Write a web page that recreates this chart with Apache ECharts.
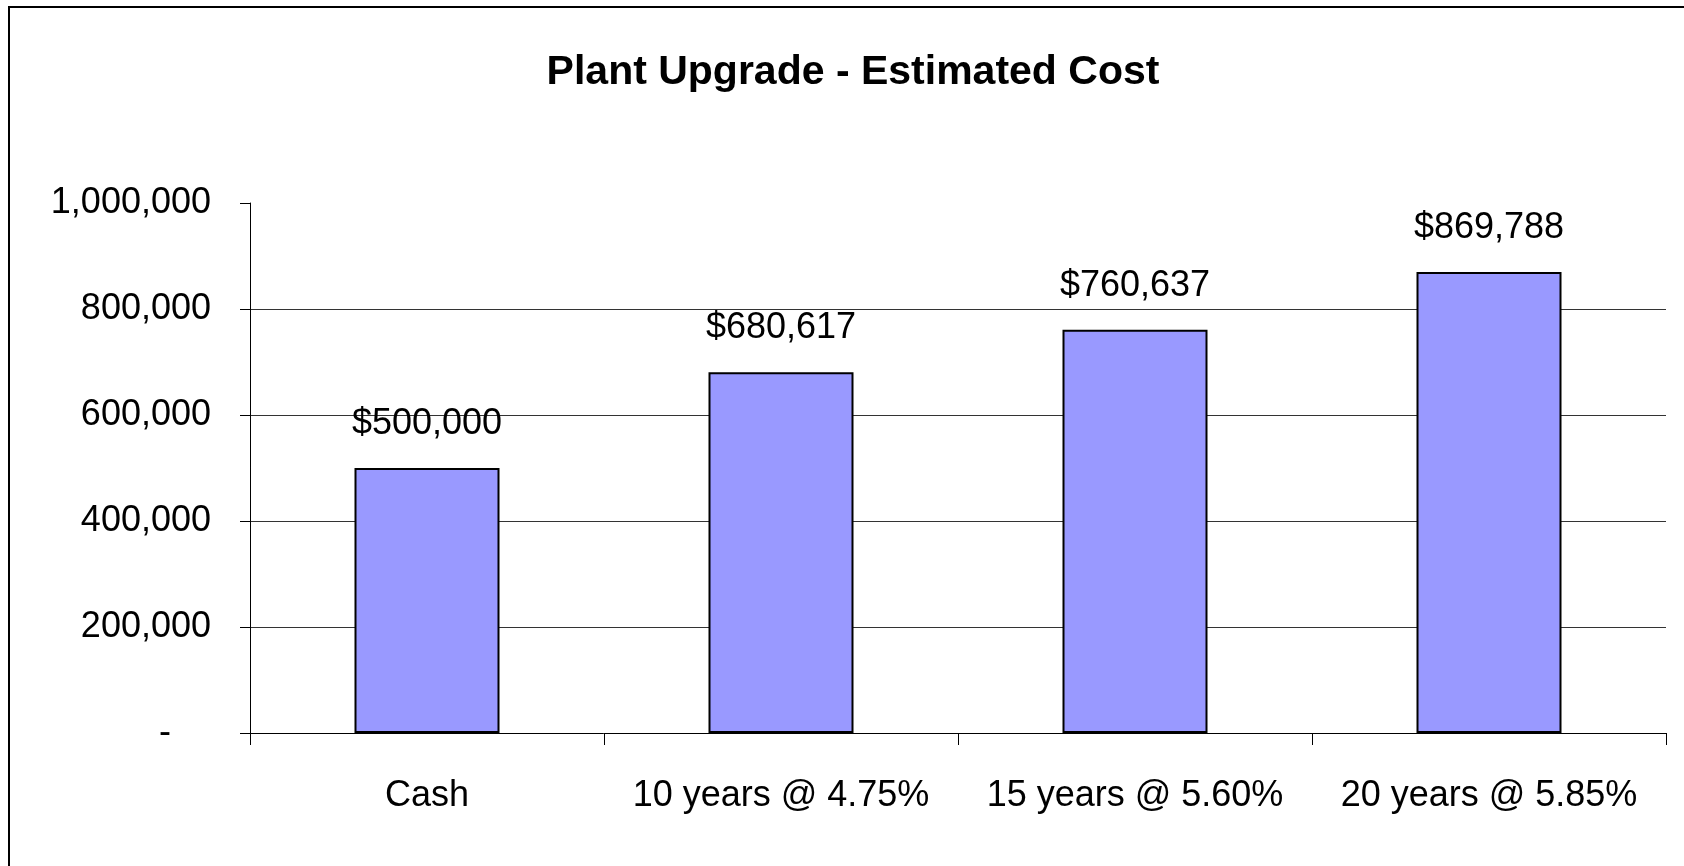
<!DOCTYPE html>
<html>
<head>
<meta charset="utf-8">
<script src="https://cdn.jsdelivr.net/npm/echarts@6/dist/echarts.min.js"></script>
<style>
html,body{margin:0;padding:0;background:#fff;}
#chart{width:1684px;height:866px;}
</style>
</head>
<body>
<div id="chart"></div>
<script>
// ---- data ----
var categories = ['Cash', '10 years @ 4.75%', '15 years @ 5.60%', '20 years @ 5.85%'];
var costValues = [500000, 680617, 760637, 869788];
var yTickLabels = ['-', '200,000', '400,000', '600,000', '800,000', '1,000,000'];
var chartTitle = 'Plant Upgrade - Estimated Cost';

// ---- font detection (layout only) ----
function hasFont(name) {
  var ctx = document.createElement('canvas').getContext('2d');
  var s = 'Cash 20 years @ 5.85% $869,788';
  ctx.font = '40px monospace';
  var a = ctx.measureText(s).width;
  ctx.font = '40px "' + name + '", monospace';
  var b = ctx.measureText(s).width;
  return Math.abs(a - b) > 0.5;
}
var narrow = hasFont('Liberation Sans Narrow');
var FONT = narrow ? '"Liberation Sans Narrow", "Liberation Sans", Arial, sans-serif' : '"Liberation Sans", Arial, sans-serif';
var LBL = narrow ? 42 : 36;
var TTL = narrow ? 48 : 41;

var chart = echarts.init(document.getElementById('chart'), null, {renderer: 'canvas'});
chart.setOption({
  animation: false,
  backgroundColor: '#ffffff',
  textStyle: {fontFamily: FONT},
  title: {
    text: chartTitle,
    left: 848,
    top: 47,
    textAlign: 'center',
    textStyle: {fontFamily: FONT, fontSize: TTL, fontWeight: 'bold', color: '#000', lineHeight: TTL}
  },
  graphic: [{
    type: 'rect', silent: true, z: 100,
    shape: {x: 9, y: 7, width: 2000, height: 2000},
    style: {fill: 'none', stroke: '#000', lineWidth: 2}
  }],
  grid: {left: 250, right: 18, top: 203, bottom: 133, containLabel: false},
  xAxis: {
    type: 'category',
    data: categories,
    axisLine: {show: true, lineStyle: {color: '#000', width: 1}},
    axisTick: {show: true, length: 12, lineStyle: {color: '#000', width: 1}},
    axisLabel: {
      margin: 45, color: '#000', fontFamily: FONT, fontSize: LBL, lineHeight: LBL,
      interval: 0
    },
    splitLine: {show: false}
  },
  yAxis: {
    type: 'value',
    min: 0, max: 1000000, interval: 200000,
    axisLine: {show: true, lineStyle: {color: '#000', width: 1}},
    axisTick: {show: true, length: 10, lineStyle: {color: '#000', width: 1}},
    axisLabel: {
      margin: 39, color: '#000', fontFamily: FONT, fontSize: LBL,
      formatter: function (v) {
        var i = Math.round(v / 200000);
        if (i === 0) return '{dash|' + yTickLabels[0] + '}';
        return yTickLabels[i];
      },
      rich: {dash: {fontFamily: FONT, fontSize: LBL, color: '#000', padding: [0, 40, 0, 0]}}
    },
    splitLine: {show: true, showMaxLine: false, showMinLine: false, lineStyle: {color: '#333', width: 1}}
  },
  series: [{
    type: 'bar',
    data: costValues,
    barWidth: 145,
    itemStyle: {color: '#9999FF', borderColor: '#000', borderWidth: 2},
    label: {
      show: true, position: 'top', distance: 26,
      color: '#000', fontFamily: FONT, fontSize: LBL, lineHeight: LBL,
      formatter: function (p) { return '$' + p.value.toLocaleString('en-US'); }
    }
  }]
});
</script>
</body>
</html>
